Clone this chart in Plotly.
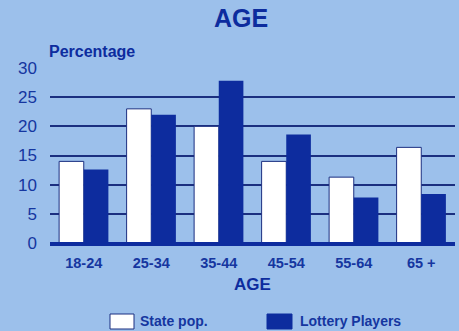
import plotly.graph_objects as go

categories = ["18-24", "25-34", "35-44", "45-54", "55-64", "65 +"]
state_pop = [14, 23, 20, 14, 11.3, 16.4]
lottery_players = [12.6, 22, 27.8, 18.6, 7.8, 8.4]
y_ticks = [0, 5, 10, 15, 20, 25, 30]

BG = "#9cc0eb"
DARK = "#0d2c9e"
TEXT = "#1536a0"
GRID = "#1b2f80"
FONT = "Liberation Sans, Arial, sans-serif"

fig = go.Figure()
fig.add_trace(go.Bar(x=categories, y=state_pop, name="State pop.",
                     marker=dict(color="white", line=dict(color=GRID, width=1))))
fig.add_trace(go.Bar(x=categories, y=lottery_players, name="Lottery Players",
                     marker=dict(color=DARK, line=dict(color=DARK, width=0))))

fig.update_layout(
    width=459, height=331,
    margin=dict(l=50, r=4, t=68, b=85),
    paper_bgcolor=BG, plot_bgcolor=BG,
    barmode="group", bargap=0.27, bargroupgap=0,
    showlegend=False,
    font=dict(family=FONT, color=TEXT),
    title=dict(text="<b>AGE</b>", x=0.525, xanchor="center", y=0.945, yanchor="middle",
               font=dict(size=25, color=DARK, family=FONT)),
    xaxis=dict(showgrid=False, showline=False, zeroline=False, ticks="",
               tickfont=dict(size=14.5, color=TEXT, family=FONT),
               ticklabelstandoff=6,
               tickvals=categories, ticktext=["<b>%s</b>" % c for c in categories],
               title=dict(text="<b>AGE</b>", font=dict(size=17, color=DARK, family=FONT), standoff=8)),
    yaxis=dict(range=[-0.5, 30], tickvals=y_ticks, showgrid=True, gridcolor=GRID, gridwidth=1.6,
               zeroline=False, showline=False, ticks="",
               tickfont=dict(size=17, color=TEXT, family=FONT), ticklabelstandoff=12),
)

# thick baseline at 0
fig.add_shape(type="line", xref="paper", yref="y", x0=0, x1=1, y0=-0.25, y1=-0.25,
              line=dict(color=DARK, width=5), layer="above")

# axis label
fig.add_annotation(text="<b>Percentage</b>", xref="paper", yref="paper", x=-0.008, y=1.035,
                   xanchor="left", yanchor="bottom", showarrow=False,
                   font=dict(size=16, color=DARK, family=FONT))

# manual legend
fig.add_shape(type="rect", xref="paper", yref="paper",
              x0=(110 - 50) / 405, x1=(134 - 50) / 405,
              y0=-(322 + 7 - 246) / 178 + 0, y1=-(322 - 8 - 246) / 178,
              fillcolor="white", line=dict(color=GRID, width=1))
fig.add_annotation(text="<b>State pop.</b>", xref="paper", yref="paper",
                   x=(138 - 50) / 405, y=-(321 - 246) / 178, xanchor="left", yanchor="middle",
                   showarrow=False, font=dict(size=14, color=TEXT, family=FONT))
fig.add_shape(type="rect", xref="paper", yref="paper",
              x0=(267 - 50) / 405, x1=(292 - 50) / 405,
              y0=-(322 + 7 - 246) / 178, y1=-(322 - 8 - 246) / 178,
              fillcolor=DARK, line=dict(color=DARK, width=1))
fig.add_annotation(text="<b>Lottery Players</b>", xref="paper", yref="paper",
                   x=(298 - 50) / 405, y=-(321 - 246) / 178, xanchor="left", yanchor="middle",
                   showarrow=False, font=dict(size=14, color=TEXT, family=FONT))

fig.write_html("out.html")
